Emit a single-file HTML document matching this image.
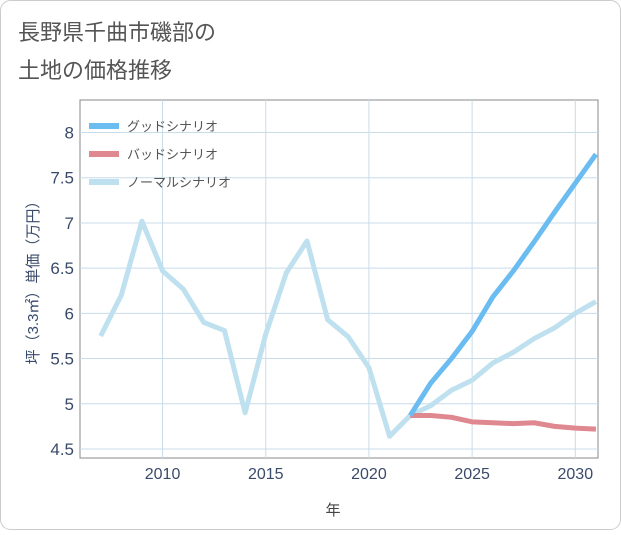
<!DOCTYPE html>
<html><head><meta charset="utf-8"><style>
body{margin:0;background:#fff;}
#wrap{position:relative;width:621px;height:530px;font-family:"Liberation Sans","Noto Sans CJK JP",sans-serif;}
svg text{font-family:"Liberation Sans","Noto Sans CJK JP",sans-serif;}
</style></head><body>
<div id="wrap">
<svg id="chart" width="621" height="530">
<rect x="0.5" y="0.5" width="620" height="529" rx="10" fill="#fff" stroke="#ccc"/>
<text x="18" y="40" font-size="22" fill="#555">長野県千曲市磯部の</text>
<text x="18" y="78" font-size="22" fill="#555">土地の価格推移</text>
<g id="grid"></g>
<g id="series"></g>
<g id="legend"></g>
<text x="333" y="515" font-size="15" fill="#444" text-anchor="middle">年</text>
<text transform="translate(38,279) rotate(-90)" font-size="15" fill="#3a4a6a" text-anchor="middle">坪（3.3㎡）単価（万円）</text>
</svg>
</div>
<script>
const years=[2007,2008,2009,2010,2011,2012,2013,2014,2015,2016,2017,2018,2019,2020,2021,2022,2023,2024,2025,2026,2027,2028,2029,2030,2031];
const normal=[5.75,6.2,7.02,6.47,6.27,5.9,5.81,4.9,5.77,6.45,6.8,5.93,5.74,5.4,4.64,4.87,4.98,5.15,5.26,5.45,5.57,5.72,5.84,6.0,6.13];
const futureYears=[2022,2023,2024,2025,2026,2027,2028,2029,2030,2031];
const good=[4.87,5.23,5.5,5.8,6.18,6.47,6.79,7.12,7.44,7.76];
const bad=[4.87,4.87,4.85,4.8,4.79,4.78,4.79,4.75,4.73,4.72];
const xTicks=[2010,2015,2020,2025,2030];
const yTicks=[4.5,5,5.5,6,6.5,7,7.5,8];
const yTickLabels=["4.5","5","5.5","6","6.5","7","7.5","8"];

const L=80,R=598,T=100,B=458;
const x0=2006,x1=2031.1,y0=4.4,y1=8.36;
const sx=v=>L+(v-x0)/(x1-x0)*(R-L);
const sy=v=>B-(v-y0)/(y1-y0)*(B-T);
const NS="http://www.w3.org/2000/svg";
function mk(tag,attrs,parent){const e=document.createElementNS(NS,tag);for(const k in attrs)e.setAttribute(k,attrs[k]);parent.appendChild(e);return e;}
const grid=document.getElementById('grid');
const bg=mk('rect',{x:L,y:T,width:R-L,height:B-T,fill:'#fff',stroke:'#888','stroke-width':1},grid);


yTicks.forEach((v,i)=>{
 const l=mk('line',{x1:L,x2:R,y1:sy(v),y2:sy(v),stroke:'#c8dcea'},grid);
 
 
 const t=mk('text',{x:L-6,y:sy(v)+6,'font-size':17,fill:'#3a4a6a','text-anchor':'end'},grid);
 t.textContent=yTickLabels[i];
 
 
});
xTicks.forEach(v=>{
 const l=mk('line',{x1:sx(v),x2:sx(v),y1:T,y2:B,stroke:'#c8dcea'},grid);
 
 
 const t=mk('text',{x:sx(v),y:B+21,'font-size':16,fill:'#3a4a6a','text-anchor':'middle'},grid);
 t.textContent=v;
 
 
});
const ser=document.getElementById('series');
mk('clipPath',{id:'clip'},ser).appendChild(Object.assign(document.createElementNS(NS,'rect'),{}));
ser.lastChild.firstChild.setAttribute('x',L);ser.lastChild.firstChild.setAttribute('y',T);
ser.lastChild.firstChild.setAttribute('width',R-L);ser.lastChild.firstChild.setAttribute('height',B-T);
function line(xs,ys,color,name){
 const p=mk('polyline',{points:xs.map((x,i)=>sx(x)+','+sy(ys[i])).join(' '),fill:'none',stroke:color,'stroke-width':5,'stroke-linejoin':'round','clip-path':'url(#clip)'},ser);
 
 
}
line(years,normal,'#bfe0ee','normal-scenario-line');
line(futureYears,bad,'#e0888f','bad-scenario-line');
line(futureYears,good,'#6bbcf1','good-scenario-line');
const lg=document.getElementById('legend');
[['グッドシナリオ','#6bbcf1','legend-good'],['バッドシナリオ','#e0888f','legend-bad'],['ノーマルシナリオ','#bfe0ee','legend-normal']].forEach((d,i)=>{
 const y=126+i*28;
 const g=mk('g',{},lg);
 
 
 mk('rect',{x:89,y:y-3,width:30,height:6,fill:d[1]},g);
 const t=mk('text',{x:127,y:y+5,'font-size':13,fill:'#555'},g);
 t.textContent=d[0];
});
</script>
</body></html>
